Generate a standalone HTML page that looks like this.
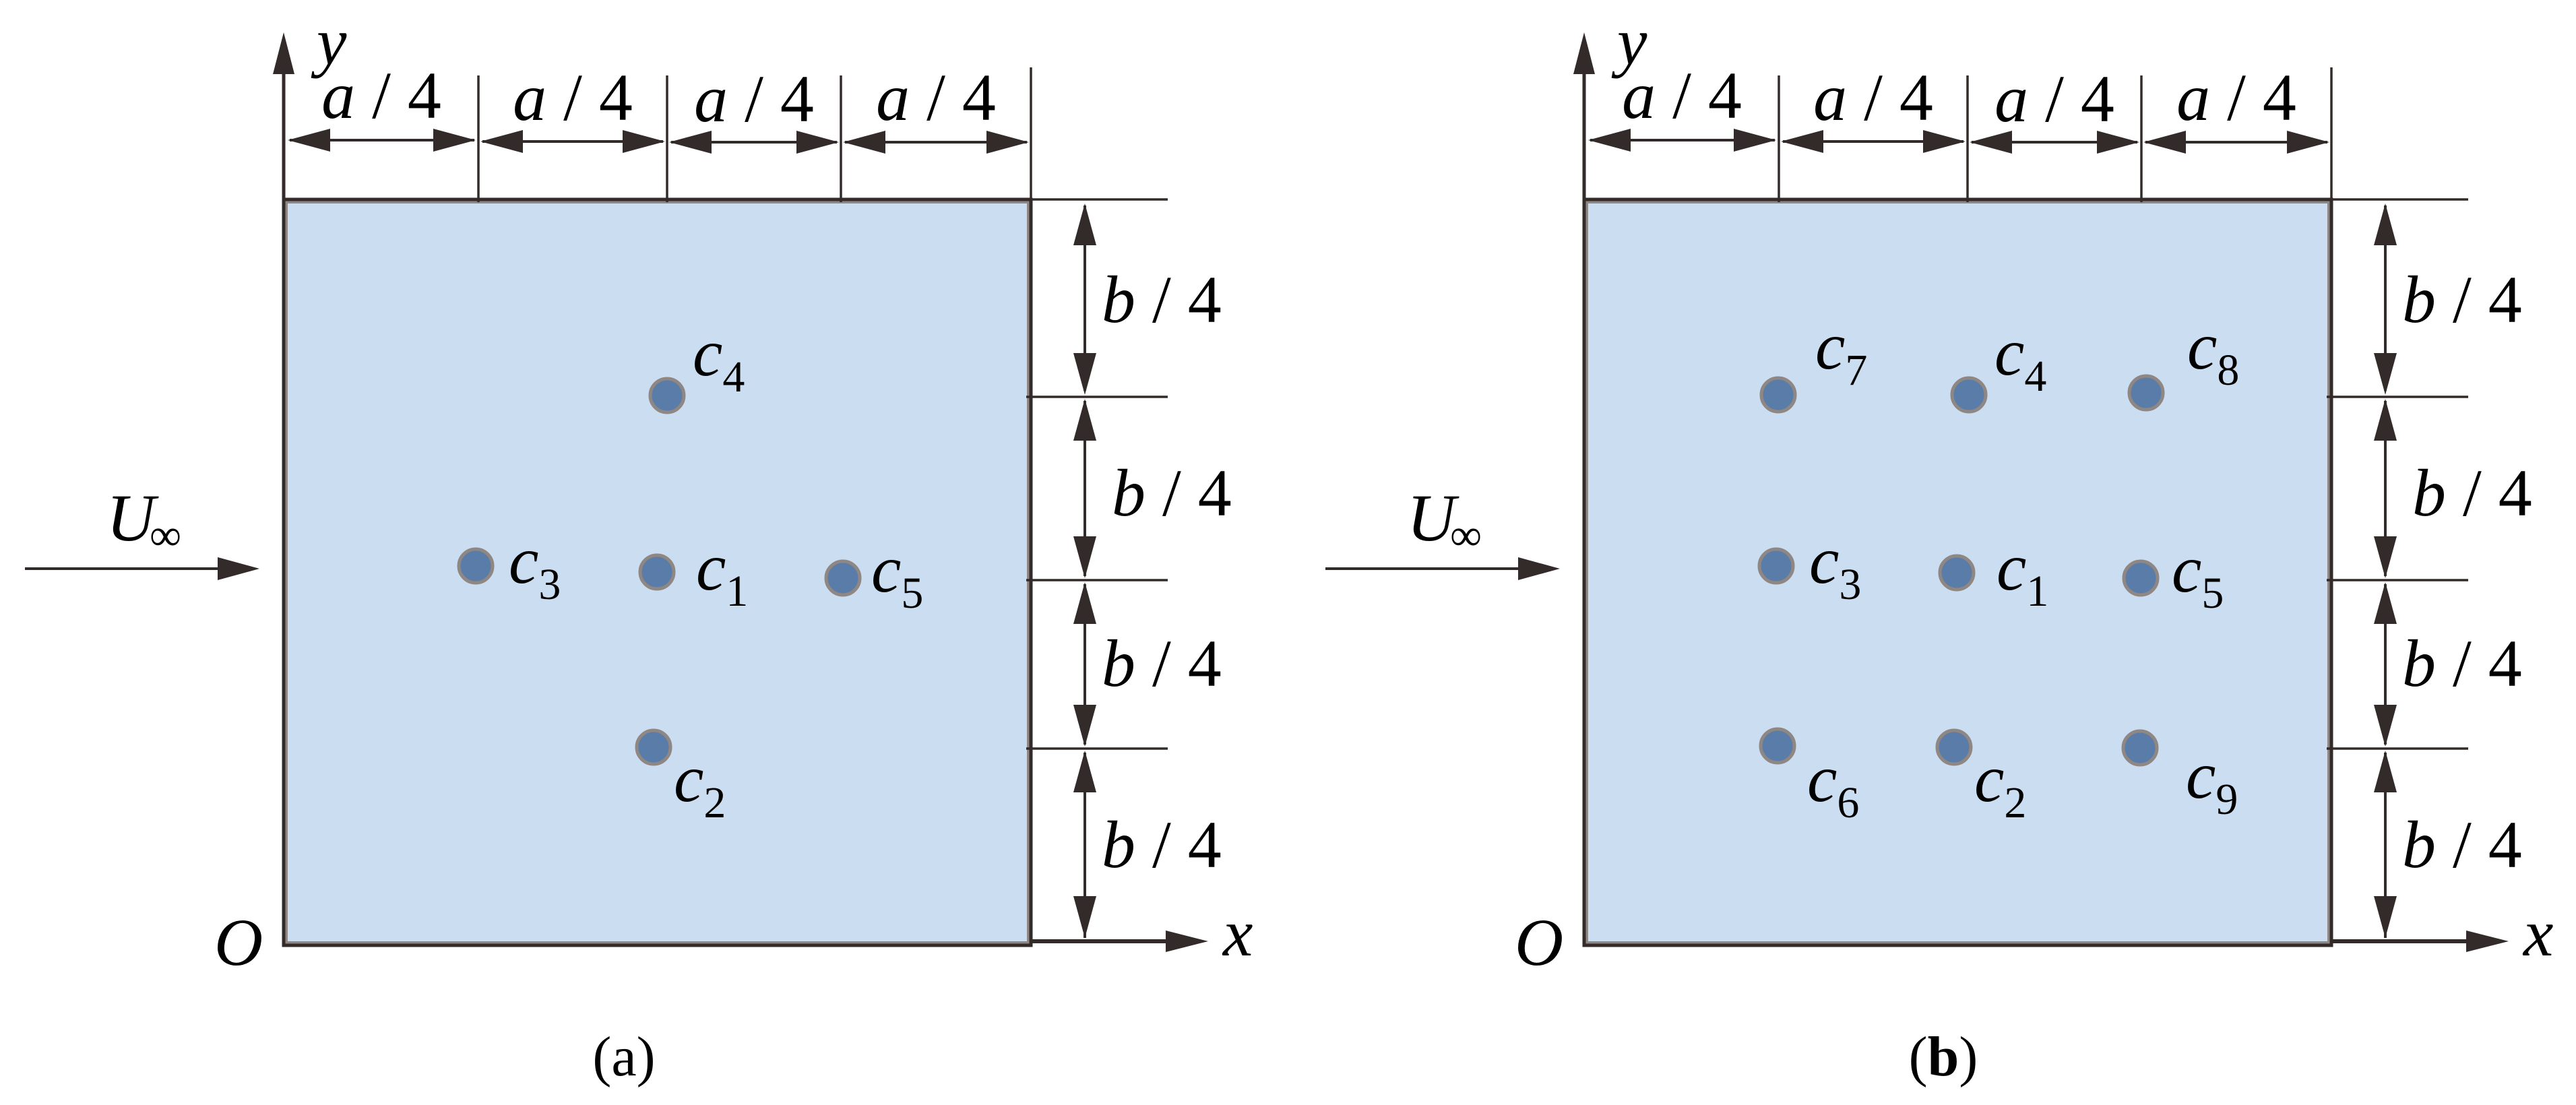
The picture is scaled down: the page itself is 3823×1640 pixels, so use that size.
<!DOCTYPE html>
<html><head><meta charset="utf-8"><style>
html,body{margin:0;padding:0;background:#fff;}
svg{display:block;}
</style></head><body>
<svg width="3823" height="1640" viewBox="0 0 3823 1640" xmlns="http://www.w3.org/2000/svg" font-family="'Liberation Serif', 'Times New Roman', Times, serif">
<defs>
<g id="frame" font-family="'Liberation Serif', 'Times New Roman', Times, serif">
  <rect x="424" y="299" width="1103" height="1101" fill="#cbddf1" stroke="#8f8783" stroke-width="6"/>
  <path d="M421 296 H1530 V1403 H421 Z" fill="none" stroke="#332b2a" stroke-width="5"/>
  <line x1="421" y1="1403" x2="421" y2="100" stroke="#332b2a" stroke-width="5"/>
  <polygon points="421,48 405,110 437,110" fill="#332b2a"/>
  <line x1="1530" y1="1397" x2="1740" y2="1397" stroke="#332b2a" stroke-width="6"/>
  <polygon points="1793,1397 1730,1381 1730,1413" fill="#332b2a"/>
  <g stroke="#332b2a" stroke-width="3.5">
    <line x1="710" y1="112" x2="710" y2="300"/>
    <line x1="990" y1="112" x2="990" y2="300"/>
    <line x1="1248" y1="112" x2="1248" y2="300"/>
    <line x1="1530" y1="100" x2="1530" y2="300"/>
    <line x1="1530" y1="296" x2="1733" y2="296"/>
    <line x1="1523" y1="589" x2="1733" y2="589"/>
    <line x1="1523" y1="861" x2="1733" y2="861"/>
    <line x1="1523" y1="1111" x2="1733" y2="1111"/>
  </g>
  <g stroke="#332b2a" stroke-width="4">
    <line x1="430" y1="208" x2="704" y2="208"/>
    <line x1="716" y1="210" x2="984" y2="210"/>
    <line x1="996" y1="211" x2="1242" y2="211"/>
    <line x1="1254" y1="211" x2="1524" y2="211"/>
  </g>
  <g fill="#332b2a">
    <polygon points="427,208 490,191 490,225"/><polygon points="706,208 643,191 643,225"/>
    <polygon points="713,210 776,193 776,227"/><polygon points="987,210 924,193 924,227"/>
    <polygon points="993,211 1056,194 1056,228"/><polygon points="1245,211 1182,194 1182,228"/>
    <polygon points="1251,211 1314,194 1314,228"/><polygon points="1527,211 1464,194 1464,228"/>
  </g>
  <g stroke="#332b2a" stroke-width="4">
    <line x1="1610" y1="305" x2="1610" y2="580"/>
    <line x1="1610" y1="595" x2="1610" y2="855"/>
    <line x1="1610" y1="867" x2="1610" y2="1105"/>
    <line x1="1610" y1="1117" x2="1610" y2="1392"/>
  </g>
  <g fill="#332b2a">
    <polygon points="1610,302 1593,364 1627,364"/><polygon points="1610,586 1593,524 1627,524"/>
    <polygon points="1610,592 1593,654 1627,654"/><polygon points="1610,858 1593,796 1627,796"/>
    <polygon points="1610,864 1593,926 1627,926"/><polygon points="1610,1108 1593,1046 1627,1046"/>
    <polygon points="1610,1114 1593,1176 1627,1176"/><polygon points="1610,1392 1593,1330 1627,1330"/>
  </g>
  <g font-size="100">
    <text x="566" y="175" text-anchor="middle"><tspan font-style="italic">a</tspan> / 4</text>
    <text x="850" y="178" text-anchor="middle"><tspan font-style="italic">a</tspan> / 4</text>
    <text x="1119" y="180" text-anchor="middle"><tspan font-style="italic">a</tspan> / 4</text>
    <text x="1389" y="178" text-anchor="middle"><tspan font-style="italic">a</tspan> / 4</text>
    <text x="1635" y="478"><tspan font-style="italic">b</tspan> / 4</text>
    <text x="1650" y="765"><tspan font-style="italic">b</tspan> / 4</text>
    <text x="1635" y="1018"><tspan font-style="italic">b</tspan> / 4</text>
    <text x="1635" y="1287"><tspan font-style="italic">b</tspan> / 4</text>
  </g>
  <text x="470" y="95" font-size="100" font-style="italic">y</text>
  <text x="1815" y="1418" font-size="100" font-style="italic">x</text>
  <text x="318" y="1432" font-size="100" font-style="italic">O</text>
  <text x="158" y="802" font-size="100" font-style="italic">U</text>
  <text x="222" y="816" font-size="66">∞</text>
  <line x1="37" y1="844" x2="330" y2="844" stroke="#332b2a" stroke-width="4"/>
  <polygon points="385,844 323,827 323,861" fill="#332b2a"/>
</g>
</defs>

<use href="#frame"/>
<use href="#frame" transform="translate(1930,0)"/>

<g fill="#5a7ca8" stroke="#8f8783" stroke-width="5">
  <circle cx="990" cy="587" r="25"/>
  <circle cx="706" cy="840" r="25"/>
  <circle cx="975" cy="849" r="25"/>
  <circle cx="1251" cy="858" r="25"/>
  <circle cx="970" cy="1109" r="25"/>
</g>
<g font-size="100" font-style="italic">
  <text x="1028" y="557">c<tspan font-size="66" font-style="normal" dy="24">4</tspan></text>
  <text x="755" y="865">c<tspan font-size="66" font-style="normal" dy="24">3</tspan></text>
  <text x="1033" y="875">c<tspan font-size="66" font-style="normal" dy="24">1</tspan></text>
  <text x="1293" y="878">c<tspan font-size="66" font-style="normal" dy="24">5</tspan></text>
  <text x="1000" y="1189">c<tspan font-size="66" font-style="normal" dy="24">2</tspan></text>
</g>
<text x="926" y="1596" font-size="84" text-anchor="middle">(a)</text>

<g fill="#5a7ca8" stroke="#8f8783" stroke-width="5">
  <circle cx="2639" cy="586" r="25"/>
  <circle cx="2922" cy="586" r="25"/>
  <circle cx="3185" cy="583" r="25"/>
  <circle cx="2636" cy="840" r="25"/>
  <circle cx="2904" cy="850" r="25"/>
  <circle cx="3177" cy="858" r="25"/>
  <circle cx="2638" cy="1107" r="25"/>
  <circle cx="2900" cy="1109" r="25"/>
  <circle cx="3176" cy="1110" r="25"/>
</g>
<g font-size="100" font-style="italic">
  <text x="2694" y="547">c<tspan font-size="66" font-style="normal" dy="24">7</tspan></text>
  <text x="2960" y="556">c<tspan font-size="66" font-style="normal" dy="24">4</tspan></text>
  <text x="3246" y="547">c<tspan font-size="66" font-style="normal" dy="24">8</tspan></text>
  <text x="2685" y="865">c<tspan font-size="66" font-style="normal" dy="24">3</tspan></text>
  <text x="2963" y="875">c<tspan font-size="66" font-style="normal" dy="24">1</tspan></text>
  <text x="3223" y="878">c<tspan font-size="66" font-style="normal" dy="24">5</tspan></text>
  <text x="2682" y="1189">c<tspan font-size="66" font-style="normal" dy="24">6</tspan></text>
  <text x="2930" y="1189">c<tspan font-size="66" font-style="normal" dy="24">2</tspan></text>
  <text x="3244" y="1184">c<tspan font-size="66" font-style="normal" dy="24">9</tspan></text>
</g>
<text x="2884" y="1596" font-size="84" text-anchor="middle">(<tspan font-weight="bold">b</tspan>)</text>
</svg>
</body></html>
